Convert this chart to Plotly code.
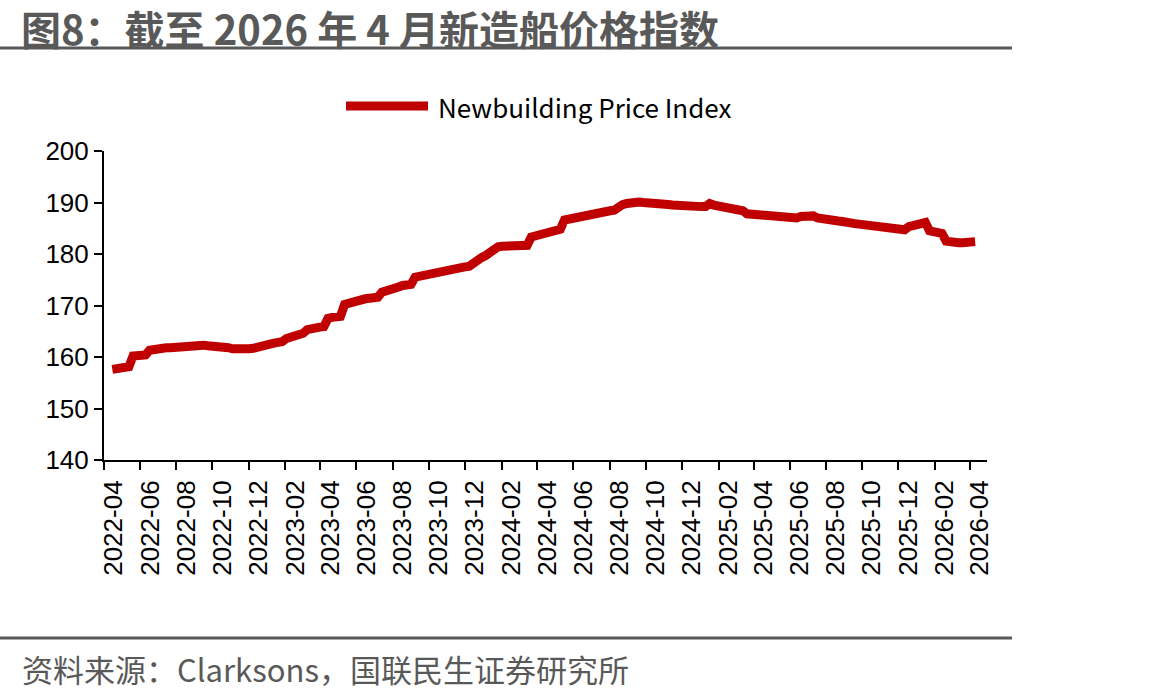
import pandas as pd
import plotly.graph_objects as go

# ---- data (weekly Clarksons Newbuilding Price Index) ----
start_date = "2022-04-15"
index_values = [
    157.6, 157.8, 157.9, 158.0, 158.1,
    160.2, 160.3, 160.3, 160.4,
    161.3, 161.5, 161.6, 161.7, 161.8,
    161.8, 161.9, 162.0, 162.0, 162.1,
    162.2, 162.3, 162.4, 162.3,
    162.2, 162.2, 162.2, 162.1, 161.9, 161.8, 161.6, 161.5,
    161.5, 161.5, 161.6, 161.7, 161.8,
    162.0, 162.3, 162.5,
    162.7, 162.8, 163.0, 163.6, 163.9, 164.0,
    164.2, 164.6, 165.3, 165.6, 165.7, 165.8,
    165.9, 167.5, 167.7, 167.8, 167.9,
    170.2, 170.5, 170.6, 170.8,
    171.1, 171.3, 171.4, 171.5, 171.6,
    172.6, 172.8, 172.9, 173.0,
    173.6, 173.9, 174.0, 174.1,
    175.5, 175.7, 175.8, 175.9, 176.0,
    176.4, 176.5, 176.6, 176.7,
    177.1, 177.3, 177.4, 177.5, 177.6,
    178.3, 178.8, 179.3, 179.7,
    180.3, 181.2, 181.4, 181.5, 181.5,
    181.5, 181.6, 181.6, 181.6, 181.7,
    183.3, 183.5, 183.6, 183.7,
    184.2, 184.5, 184.7, 184.8,
    186.6, 186.8, 186.9, 187.0,
    187.4, 187.6, 187.7, 187.8, 187.9,
    188.1, 188.3, 188.4, 188.5,
    189.3, 189.6, 189.8, 190.0,
    190.1, 190.1, 190.0, 190.0, 189.9, 189.9,
    189.8, 189.7, 189.6, 189.5,
    189.4, 189.4, 189.3, 189.3, 189.3,
    189.3, 189.2, 189.2, 189.8, 189.5, 189.4, 189.3, 189.2,
    188.8, 188.6, 188.5, 188.4,
    187.8, 187.7, 187.6, 187.6,
    187.4, 187.3, 187.3, 187.2,
    187.0, 186.9, 186.9, 186.9, 187.0,
    187.3, 187.4, 187.4, 187.4,
    187.0, 186.8, 186.7, 186.6,
    186.5, 186.4, 186.3, 186.3, 186.2,
    185.9, 185.8, 185.7, 185.6, 185.5,
    185.1, 185.0, 184.9, 184.8,
    184.6, 184.6, 184.6, 184.7,
    185.3, 185.5, 185.7, 185.9, 186.1,
    184.5, 184.3, 184.2, 184.0,
    182.5, 182.3, 182.2, 182.2, 182.2, 182.3, 182.3, 182.4,
]
dates = pd.date_range(start_date, periods=len(index_values), freq="7D")

series_name = "Newbuilding Price Index"
title_text = "图8：截至 2026 年 4 月新造船价格指数"
source_text = "资料来源：Clarksons，国联民生证券研究所"
y_ticks = [140, 150, 160, 170, 180, 190, 200]

# ---- layout geometry (pixels) ----
W, H = 1162, 700
L, R, T, B = 104, 987, 151, 460
RED = "#C00000"
GREY = "#595959"


def px(x):
    return (x - L) / (R - L)


def py(y):
    return (B - y) / (B - T)


fig = go.Figure()
fig.add_trace(go.Scatter(
    x=dates, y=index_values, mode="lines", name=series_name,
    line=dict(color=RED, width=9), showlegend=False,
))

fig.update_layout(
    width=W, height=H,
    margin=dict(l=L, r=W - R, t=T, b=H - B, pad=0),
    paper_bgcolor="white", plot_bgcolor="white",
    font=dict(family="Liberation Sans, Arial", color="black"),
    xaxis=dict(
        range=["2022-04-01", "2026-04-30"],
        tickmode="linear", tick0="2022-04-01", dtick="M2",
        tickformat="%Y-%m", tickangle=-90,
        ticks="outside", ticklen=8, tickwidth=2, tickcolor="black",
        showline=True, linewidth=2, linecolor="black",
        showgrid=False, zeroline=False,
        tickfont=dict(size=26, family="Liberation Sans, Arial", color="black"),
        ticklabelshift=10,
    ),
    yaxis=dict(
        range=[140, 200], tickvals=y_ticks,
        ticks="outside", ticklen=8, tickwidth=2, tickcolor="black",
        showline=True, linewidth=2, linecolor="black",
        showgrid=False, zeroline=False,
        tickfont=dict(size=26, family="Liberation Sans, Arial", color="black"),
    ),
    shapes=[
        dict(type="line", xref="paper", yref="paper", x0=px(0), x1=px(1012),
             y0=py(48), y1=py(48), line=dict(color=GREY, width=3)),
        dict(type="line", xref="paper", yref="paper", x0=px(0), x1=px(1012),
             y0=py(638), y1=py(638), line=dict(color=GREY, width=3)),
        dict(type="line", xref="paper", yref="paper", x0=px(346), x1=px(428),
             y0=py(106), y1=py(106), line=dict(color=RED, width=9)),
    ],
    annotations=[
        dict(text="<b>" + title_text + "</b>", xref="paper", yref="paper",
             x=px(20), y=py(28), xanchor="left", yanchor="middle", showarrow=False,
             borderpad=0,
             font=dict(size=40, color=GREY, family="Noto Sans CJK SC")),
        dict(text=source_text, xref="paper", yref="paper",
             x=px(20), y=py(668), xanchor="left", yanchor="middle", showarrow=False,
             font=dict(size=31, color=GREY, family="Noto Sans CJK SC")),
        dict(text=series_name, xref="paper", yref="paper",
             x=px(436), y=py(106), xanchor="left", yanchor="middle", showarrow=False,
             font=dict(size=26, color="black", family="Noto Sans CJK SC")),
    ],
)

fig.write_html("out.html")
